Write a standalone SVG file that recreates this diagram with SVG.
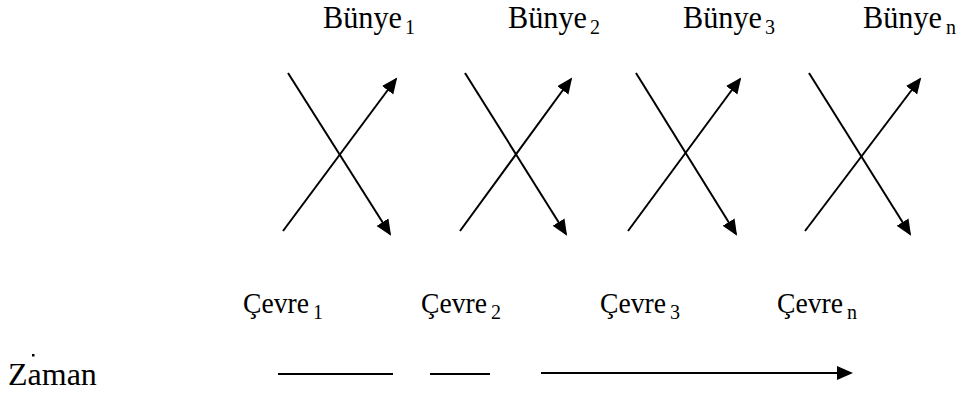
<svg xmlns="http://www.w3.org/2000/svg" width="965" height="396" viewBox="0 0 965 396">
<style>
.lbl{font-family:"Liberation Serif","DejaVu Serif",serif;font-size:31px;fill:#000}
.cv{font-size:28.5px}
.sub{font-size:20px}
.zm{font-family:"Liberation Serif",serif;font-size:32px;fill:#000}
.ln{stroke:#000;stroke-width:2;fill:none}
.arr{marker-end:url(#ah)}
</style>
<defs>
<marker id="ah" markerUnits="userSpaceOnUse" markerWidth="20" markerHeight="16" refX="14" refY="7" orient="auto">
<path d="M0,0 L16,7 L0,14 Z" fill="#000"/>
</marker>
</defs>
<rect width="965" height="396" fill="#fff"/>
<g id="bunye1"><text class="lbl" x="323" y="28"><tspan textLength="79" lengthAdjust="spacingAndGlyphs">Bünye</tspan><tspan class="sub" x="405" y="34">1</tspan></text></g>
<g id="bunye2"><text class="lbl" x="508" y="28"><tspan textLength="79" lengthAdjust="spacingAndGlyphs">Bünye</tspan><tspan class="sub" x="590" y="34">2</tspan></text></g>
<g id="bunye3"><text class="lbl" x="683" y="28"><tspan textLength="79" lengthAdjust="spacingAndGlyphs">Bünye</tspan><tspan class="sub" x="765" y="34">3</tspan></text></g>
<g id="bunyen"><text class="lbl" x="863" y="28"><tspan textLength="79" lengthAdjust="spacingAndGlyphs">Bünye</tspan><tspan class="sub" x="946" y="34">n</tspan></text></g>
<g id="cevre1"><text class="lbl" x="243" y="313"><tspan class="cv" textLength="66" lengthAdjust="spacingAndGlyphs">Çevre</tspan><tspan class="sub" x="313" y="319">1</tspan></text></g>
<g id="cevre2"><text class="lbl" x="421" y="313"><tspan class="cv" textLength="66" lengthAdjust="spacingAndGlyphs">Çevre</tspan><tspan class="sub" x="491" y="319">2</tspan></text></g>
<g id="cevre3"><text class="lbl" x="600" y="313"><tspan class="cv" textLength="66" lengthAdjust="spacingAndGlyphs">Çevre</tspan><tspan class="sub" x="670" y="319">3</tspan></text></g>
<g id="cevren"><text class="lbl" x="777" y="313"><tspan class="cv" textLength="66" lengthAdjust="spacingAndGlyphs">Çevre</tspan><tspan class="sub" x="847" y="319">n</tspan></text></g>
<g id="zaman"><text class="zm" x="8" y="385">Zaman</text><rect x="32" y="354" width="2.5" height="2.5" fill="#000"/></g>
<g id="connectors">
<line class="ln arr" x1="288" y1="73" x2="390" y2="234"/>
<line class="ln arr" x1="283" y1="231" x2="396" y2="79"/>
<line class="ln arr" x1="465" y1="73" x2="566" y2="234"/>
<line class="ln arr" x1="460" y1="231" x2="571" y2="79"/>
<line class="ln arr" x1="636" y1="73" x2="736" y2="234"/>
<line class="ln arr" x1="628" y1="231" x2="740" y2="79"/>
<line class="ln arr" x1="809" y1="73" x2="910" y2="234"/>
<line class="ln arr" x1="805" y1="231" x2="920" y2="79"/>
<line class="ln" x1="278" y1="374" x2="393" y2="374"/>
<line class="ln" x1="430" y1="374" x2="490" y2="374"/>
<line class="ln arr" x1="541" y1="373" x2="851" y2="373"/>
</g>
</svg>
